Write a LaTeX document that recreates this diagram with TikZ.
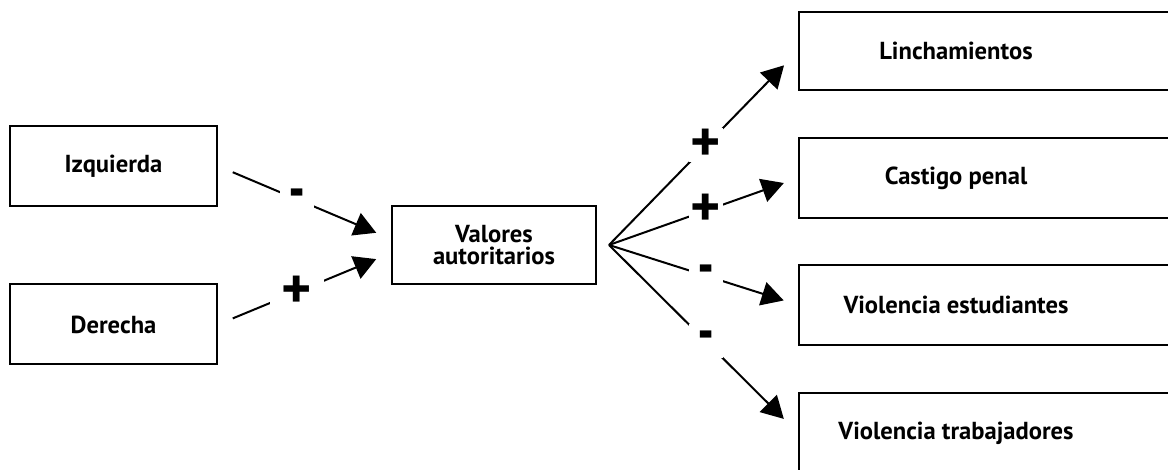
\documentclass[tikz,border=0pt]{standalone}
\usepackage{fontspec}
\setmainfont{PT Sans}
\usetikzlibrary{arrows.meta,calc}
\tikzset{
  box/.style={draw=black, line width=2pt, rectangle, inner sep=0pt},
  txt/.style={font=\fontsize{24.6}{22.6}\selectfont\bfseries, align=center, inner sep=0pt},
  conn/.style={line width=2pt, -{Triangle[length=22pt,width=24pt]}},
  sign/.style={fill=white, minimum width=34pt, minimum height=34pt, inner sep=0pt,
    font=\fontsize{36}{36}\selectfont\bfseries},
}
\newcommand{\minussign}{{\fontsize{26}{26}\selectfont\scalebox{1}[2.4]{–}}}
\newcommand{\plussign}{\scalebox{1.6}{+}}
\begin{document}
\begin{tikzpicture}[x=1pt,y=-1pt]
\useasboundingbox (0,0) rectangle (1168,470);
\clip (0,0) rectangle (1168,470);
% left boxes
\node[box, minimum width=207pt, minimum height=80pt] (izqbox) at (113.5,166) {};
\node[txt] (izq) at (113.5,166) {Izquierda};
\node[box, minimum width=207pt, minimum height=80pt] (derbox) at (113.5,324.5) {};
\node[txt] (der) at (113.5,324.5) {Derecha};
% center
\node[box, minimum width=204pt, minimum height=78pt] (valbox) at (494,245) {};
\node[txt] (val) at (494,245) {Valores\\autoritarios};
\coordinate (fan) at ($(valbox.east)+(12,0)$);
% right boxes (cropped by the picture edge)
\node[box, minimum width=391pt, minimum height=78pt] (linbox) at (994.5,51) {};
\node[txt] (lin) at (956,51) {Linchamientos};
\node[box, minimum width=391pt, minimum height=80pt] (casbox) at (994.5,178) {};
\node[txt] (cas) at (956,178) {Castigo penal};
\node[box, minimum width=391pt, minimum height=80pt] (estbox) at (994.5,305) {};
\node[txt] (est) at (956,305) {Violencia estudiantes};
\node[box, minimum width=391pt, minimum height=90pt] (trabox) at (994.5,438) {};
\node[txt] (tra) at (956,433) {Violencia trabajadores};
% left connectors
\draw[conn, shorten <=16pt, shorten >=16pt] (izqbox.east) -- node[sign, pos=0.457] (s1) {\minussign} ($(valbox.west)+(0,-6)$);
\draw[conn, shorten <=16pt, shorten >=16pt] (derbox.east) -- node[sign, pos=0.457, minimum width=54pt, minimum height=26pt] (s2) {\plussign} ($(valbox.west)+(0,8)$);
% right connectors
\draw[conn, shorten >=20pt] (fan) -- node[sign, pos=0.513] (s3) {\plussign} (linbox.west);
\draw[conn, shorten >=15pt] (fan) -- node[sign, pos=0.513] (s4) {\plussign} (casbox.west);
\draw[conn, shorten >=15pt] (fan) -- node[sign, pos=0.513] (s5) {\minussign} (estbox.west);
\draw[conn, shorten >=20pt] (fan) -- node[sign, pos=0.513] (s6) {\minussign} (trabox.west |- tra.west);
\end{tikzpicture}
\end{document}
